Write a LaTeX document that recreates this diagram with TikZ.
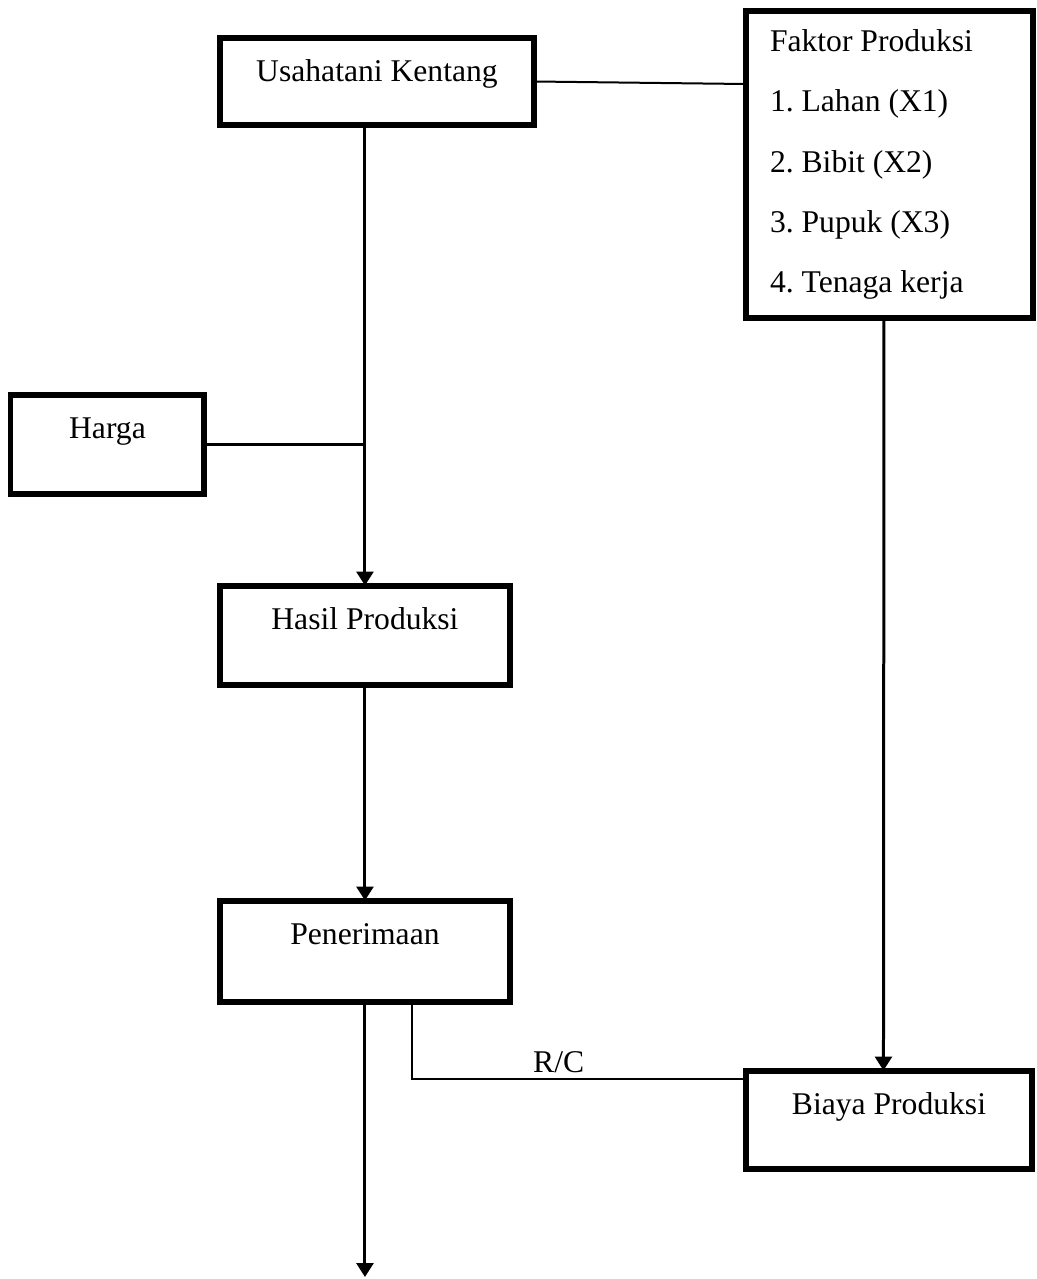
\documentclass[tikz,border=0pt]{standalone}
\usepackage{fontspec}
\setmainfont{Liberation Serif}
\frenchspacing
\usetikzlibrary{arrows.meta,positioning}
\tikzset{
  kotak/.style={draw, line width=0.12cm, inner sep=0pt, outer sep=0pt, anchor=north west,
    text height=0.88cm, text depth=1.12cm},
  panah/.style={line width=0.06cm, -{Triangle[length=0.28cm,width=0.34cm]}},
  garis/.style={line width=0.06cm},
  tipis/.style={line width=0.04cm}
}
\begin{document}
\begin{tikzpicture}
  [x=0.02cm, y=-0.02cm, every node/.style={font=\fontsize{18}{21.6}\selectfont}]
  \useasboundingbox (0,0) rectangle (1036,1279);
  \node[kotak, minimum width=6.3cm, text depth=0.88cm] (usaha) at (219.5,37.5) {Usahatani Kentang};
  \node[kotak, minimum width=3.88cm] (harga) at (10.5,394.5) {Harga};
  \node[kotak, minimum width=5.82cm] (hasil) at (219.5,585.5) {Hasil Produksi};
  \node[kotak, minimum width=5.82cm, text depth=1.16cm] (terima) at (219.5,900.5) {Penerimaan};
  \node[kotak, minimum width=5.74cm, text depth=1.1cm] (biaya) at (745.5,1070.5) {Biaya Produksi};
  \node[draw, line width=0.12cm, anchor=north west, outer sep=0pt, inner sep=0pt, inner xsep=0.49cm,
    text width=4.78cm, minimum height=6.16cm, align=flush left,
    font=\fontsize{18}{34.4}\selectfont] (faktor) at (745.5,10.5)
    {Faktor Produksi\\1. Lahan (X1)\\2. Bibit (X2)\\3. Pupuk (X3)\\4. Tenaga kerja};
  \coordinate (fkin) at (745.5,84);
  \coordinate (akhir) at (terima.south |- 0,1277);
  \coordinate (rc) at ([yshift=-0.17cm]biaya.north west);
  \draw[tipis] (usaha.east) -- (fkin);
  \draw[panah] (usaha.south -| hasil.north) -- (hasil.north);
  \draw[garis] (harga.east) -- (harga.east -| hasil.north);
  \draw[panah] (hasil.south) -- (terima.north);
  \draw[panah] (terima.south) -- (akhir);
  \draw[tipis] ([xshift=0.94cm]terima.south) |- (rc) node[pos=0.72, above, inner sep=0.1cm] (rclabel) {R/C};
  \draw[panah] ([xshift=-0.11cm]faktor.south) -- ([xshift=-0.11cm]biaya.north);
\end{tikzpicture}
\end{document}
